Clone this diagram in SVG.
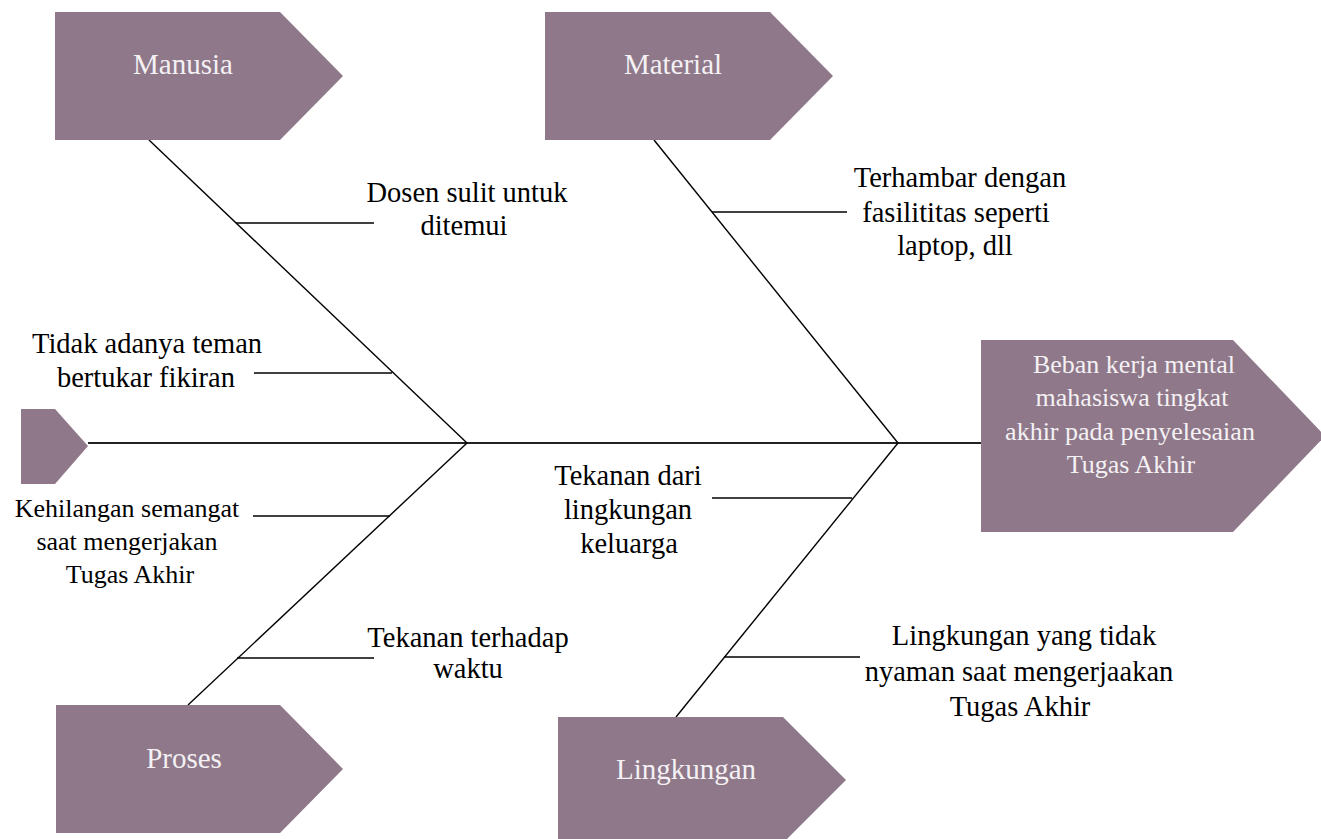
<svg xmlns="http://www.w3.org/2000/svg" width="1321" height="839" viewBox="0 0 1321 839" font-family="Liberation Serif, Times New Roman, serif">
<style>
text{text-anchor:middle;}
.shape{fill:#8f7889;}
.nt{font-size:29px;fill:#f4f1f4;}
.ht{font-size:26px;fill:#f4f1f4;}
.lb{font-size:28.5px;fill:#000;}
.lbs{font-size:26px;fill:#000;}
.ln{stroke:#000;stroke-width:1.4;fill:none;}
.sp{stroke:#222;stroke-width:2;fill:none;}
</style>
<rect width="1321" height="839" fill="#ffffff"/>
<g id="connectors">
<line class="sp" x1="88" y1="443" x2="981" y2="443"/>
<line class="ln" x1="149" y1="140" x2="467" y2="443"/>
<line class="ln" x1="654" y1="140" x2="898" y2="443"/>
<line class="ln" x1="467" y1="443" x2="188" y2="705"/>
<line class="ln" x1="898" y1="443" x2="676" y2="717"/>
<line class="ln" x1="236" y1="223" x2="374" y2="223"/>
<line class="ln" x1="254" y1="373" x2="392" y2="373"/>
<line class="ln" x1="253" y1="516" x2="390" y2="516"/>
<line class="ln" x1="237" y1="658" x2="374" y2="658"/>
<line class="ln" x1="712" y1="212" x2="847" y2="212"/>
<line class="ln" x1="712" y1="498" x2="852" y2="498"/>
<line class="ln" x1="724" y1="657" x2="860" y2="657"/>
</g>
<g id="tail">
<polygon class="shape" points="21,409 55,409 88,446 55,484 21,484"/>
</g>
<g id="head">
<polygon class="shape" points="981,340 1233,340 1325,436 1233,532 981,532"/>
<text class="ht" x="1134" y="373">Beban kerja mental</text>
<text class="ht" x="1132" y="406">mahasiswa tingkat</text>
<text class="ht" x="1130" y="440">akhir pada penyelesaian</text>
<text class="ht" x="1131" y="473">Tugas Akhir</text>
</g>
<g id="manusia">
<polygon class="shape" points="55,12 280,12 343,76 280,140 55,140"/>
<text class="nt" x="183" y="74">Manusia</text>
</g>
<g id="material">
<polygon class="shape" points="545,12 770,12 833,76 770,140 545,140"/>
<text class="nt" x="673" y="74">Material</text>
</g>
<g id="proses">
<polygon class="shape" points="56,705 280,705 343,769 280,833 56,833"/>
<text class="nt" x="184" y="768">Proses</text>
</g>
<g id="lingkungan">
<polygon class="shape" points="558,717 783,717 846,780 783,843 558,843"/>
<text class="nt" x="686" y="779">Lingkungan</text>
</g>
<g id="cause-dosen">
<text class="lb" x="467" y="202">Dosen sulit untuk</text>
<text class="lb" x="464" y="235">ditemui</text>
</g>
<g id="cause-teman">
<text class="lb" x="147" y="353">Tidak adanya teman</text>
<text class="lb" x="146" y="387">bertukar fikiran</text>
</g>
<g id="cause-semangat">
<text class="lbs" x="127" y="517">Kehilangan semangat</text>
<text class="lbs" x="127" y="550">saat mengerjakan</text>
<text class="lbs" x="130" y="583">Tugas Akhir</text>
</g>
<g id="cause-waktu">
<text class="lb" x="468" y="647">Tekanan terhadap</text>
<text class="lb" x="468" y="678">waktu</text>
</g>
<g id="cause-fasilitas">
<text class="lb" x="960" y="187">Terhambar dengan</text>
<text class="lb" x="956" y="222">fasilititas seperti</text>
<text class="lb" x="955" y="255">laptop, dll</text>
</g>
<g id="cause-keluarga">
<text class="lb" x="628" y="485">Tekanan dari</text>
<text class="lb" x="628" y="519">lingkungan</text>
<text class="lb" x="629" y="553">keluarga</text>
</g>
<g id="cause-lingkungan">
<text class="lb" x="1024" y="645">Lingkungan yang tidak</text>
<text class="lb" x="1019" y="681">nyaman saat mengerjaakan</text>
<text class="lb" x="1020" y="716">Tugas Akhir</text>
</g>
</svg>
